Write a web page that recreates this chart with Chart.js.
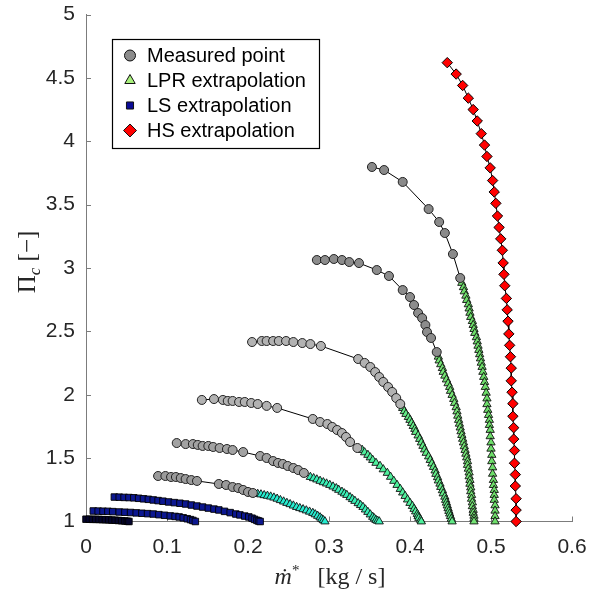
<!DOCTYPE html>
<html><head><meta charset="utf-8">
<script src="https://cdn.jsdelivr.net/npm/chart.js@4.4.0/dist/chart.umd.min.js"></script>
<style>html,body{margin:0;padding:0;background:#fff;}</style>
</head><body>
<canvas id="c" width="589" height="590"></canvas>
<script>
// ---------- tick labels ----------
const xTickValues = [0, 0.1, 0.2, 0.3, 0.4, 0.5, 0.6];
const xTickLabels = ['0', '0.1', '0.2', '0.3', '0.4', '0.5', '0.6'];
const yTickValues = [1, 1.5, 2, 2.5, 3, 3.5, 4, 4.5, 5];
const yTickLabels = ['1', '1.5', '2', '2.5', '3', '3.5', '4', '4.5', '5'];
const legendLabels = ['Measured point', 'LPR extrapolation', 'LS extrapolation', 'HS extrapolation'];

// ---------- measured points [m*, Pi_c] ----------
const measuredA = [[0.089,1.359],[0.098,1.359],[0.105,1.351],[0.111,1.351],[0.117,1.343],[0.123,1.335],[0.130,1.327],[0.137,1.320],[0.164,1.296],[0.173,1.288],[0.181,1.272],[0.188,1.264],[0.194,1.249],[0.200,1.233],[0.206,1.225]];
const measuredB = [[0.112,1.619],[0.123,1.611],[0.132,1.611],[0.138,1.604],[0.144,1.596],[0.151,1.596],[0.157,1.588],[0.165,1.580],[0.174,1.572],[0.181,1.564],[0.194,1.548],[0.215,1.517],[0.223,1.501],[0.231,1.477],[0.237,1.462],[0.243,1.454],[0.249,1.438],[0.256,1.422],[0.262,1.406],[0.269,1.383]];
const measuredC = [[0.143,1.959],[0.158,1.966],[0.169,1.959],[0.175,1.951],[0.181,1.951],[0.189,1.943],[0.196,1.943],[0.204,1.935],[0.212,1.927],[0.223,1.912],[0.236,1.896],[0.280,1.809],[0.289,1.785],[0.298,1.769],[0.304,1.746],[0.310,1.722],[0.316,1.698],[0.321,1.667],[0.326,1.627],[0.335,1.580]];
const measuredD = [[0.205,2.416],[0.217,2.424],[0.223,2.424],[0.231,2.424],[0.238,2.424],[0.247,2.424],[0.256,2.416],[0.267,2.408],[0.277,2.400],[0.290,2.385],[0.336,2.282],[0.344,2.251],[0.351,2.219],[0.357,2.179],[0.362,2.140],[0.367,2.101],[0.373,2.061],[0.378,2.022],[0.383,1.974],[0.388,1.927]];
const measuredE = [[0.285,3.063],[0.295,3.063],[0.306,3.071],[0.316,3.063],[0.325,3.047],[0.337,3.039],[0.359,2.984],[0.374,2.937],[0.391,2.826],[0.400,2.771],[0.405,2.708],[0.410,2.645],[0.415,2.605],[0.419,2.550],[0.421,2.495],[0.426,2.448],[0.433,2.337]];
const measuredF = [[0.353,3.797],[0.368,3.773],[0.391,3.679],[0.423,3.465],[0.436,3.363],[0.443,3.276],[0.453,3.110],[0.462,2.921]];

// ---------- LPR extrapolation ----------
const lprA = [[0.212,1.217],[0.216,1.213],[0.220,1.207],[0.224,1.202],[0.228,1.196],[0.232,1.188],[0.236,1.179],[0.240,1.168],[0.244,1.157],[0.248,1.146],[0.252,1.136],[0.256,1.125],[0.260,1.114],[0.264,1.105],[0.268,1.096],[0.272,1.087],[0.276,1.077],[0.280,1.067],[0.283,1.056],[0.286,1.044],[0.289,1.032],[0.291,1.020],[0.293,1.010],[0.295,1.000]];
const lprB = [[0.277,1.351],[0.281,1.341],[0.285,1.331],[0.289,1.320],[0.293,1.309],[0.297,1.299],[0.301,1.288],[0.305,1.275],[0.309,1.262],[0.312,1.249],[0.316,1.234],[0.319,1.221],[0.322,1.209],[0.326,1.191],[0.329,1.176],[0.332,1.162],[0.336,1.144],[0.339,1.129],[0.342,1.114],[0.345,1.094],[0.348,1.075],[0.351,1.055],[0.354,1.036],[0.356,1.024],[0.358,1.012],[0.360,1.005],[0.362,1.000]];
const lprC = [[0.341,1.564],[0.344,1.545],[0.348,1.525],[0.351,1.505],[0.354,1.485],[0.358,1.462],[0.363,1.438],[0.367,1.411],[0.372,1.383],[0.376,1.352],[0.380,1.320],[0.384,1.288],[0.388,1.256],[0.391,1.228],[0.394,1.201],[0.397,1.173],[0.400,1.146],[0.403,1.122],[0.405,1.099],[0.407,1.079],[0.409,1.059],[0.410,1.043],[0.411,1.028],[0.413,1.013],[0.414,1.000]];
const lprD = [[0.391,1.895],[0.393,1.870],[0.395,1.848],[0.398,1.824],[0.400,1.801],[0.402,1.777],[0.404,1.753],[0.406,1.730],[0.407,1.706],[0.410,1.678],[0.412,1.651],[0.414,1.623],[0.416,1.596],[0.418,1.568],[0.420,1.541],[0.423,1.513],[0.425,1.485],[0.427,1.457],[0.429,1.430],[0.431,1.402],[0.432,1.375],[0.434,1.349],[0.435,1.323],[0.437,1.298],[0.438,1.272],[0.440,1.246],[0.441,1.221],[0.443,1.195],[0.444,1.170],[0.445,1.148],[0.446,1.126],[0.447,1.104],[0.448,1.083],[0.449,1.062],[0.450,1.042],[0.451,1.021],[0.452,1.000]];
const lprE = [[0.435,2.300],[0.436,2.270],[0.438,2.240],[0.440,2.210],[0.441,2.180],[0.443,2.150],[0.445,2.120],[0.447,2.090],[0.449,2.061],[0.450,2.030],[0.452,1.998],[0.454,1.966],[0.455,1.935],[0.457,1.901],[0.458,1.868],[0.459,1.834],[0.460,1.801],[0.461,1.771],[0.462,1.741],[0.463,1.711],[0.464,1.682],[0.465,1.652],[0.466,1.623],[0.467,1.593],[0.468,1.564],[0.469,1.534],[0.470,1.505],[0.471,1.475],[0.471,1.446],[0.472,1.416],[0.473,1.386],[0.473,1.356],[0.474,1.327],[0.474,1.297],[0.475,1.268],[0.475,1.238],[0.476,1.209],[0.476,1.179],[0.477,1.150],[0.477,1.120],[0.478,1.091],[0.478,1.068],[0.479,1.045],[0.479,1.022],[0.479,1.000]];
const lprF = [[0.464,2.882],[0.466,2.848],[0.467,2.815],[0.469,2.781],[0.470,2.747],[0.472,2.713],[0.473,2.680],[0.474,2.646],[0.475,2.613],[0.477,2.581],[0.478,2.550],[0.479,2.518],[0.480,2.487],[0.482,2.453],[0.483,2.420],[0.484,2.386],[0.485,2.353],[0.486,2.319],[0.487,2.286],[0.488,2.252],[0.489,2.219],[0.490,2.180],[0.491,2.140],[0.492,2.100],[0.493,2.061],[0.494,2.015],[0.495,1.970],[0.495,1.925],[0.496,1.880],[0.497,1.840],[0.498,1.801],[0.498,1.761],[0.499,1.722],[0.499,1.672],[0.500,1.623],[0.500,1.574],[0.501,1.525],[0.501,1.475],[0.502,1.426],[0.502,1.376],[0.503,1.327],[0.503,1.287],[0.504,1.248],[0.504,1.209],[0.504,1.170],[0.505,1.127],[0.505,1.085],[0.505,1.042],[0.505,1.000]];

// ---------- LS extrapolation ----------
const lsA = [[0.000,1.018],[0.004,1.018],[0.008,1.017],[0.012,1.017],[0.016,1.016],[0.020,1.015],[0.024,1.014],[0.028,1.013],[0.032,1.011],[0.036,1.010],[0.040,1.008],[0.044,1.006],[0.048,1.004],[0.051,1.002],[0.053,1.000]];
const lsB = [[0.009,1.083],[0.015,1.082],[0.021,1.081],[0.027,1.080],[0.033,1.078],[0.041,1.075],[0.048,1.073],[0.055,1.071],[0.062,1.068],[0.069,1.065],[0.076,1.062],[0.083,1.059],[0.090,1.054],[0.097,1.049],[0.104,1.044],[0.110,1.040],[0.115,1.036],[0.120,1.029],[0.125,1.022],[0.129,1.015],[0.132,1.008],[0.135,1.000]];
const lsC = [[0.035,1.193],[0.041,1.192],[0.047,1.190],[0.053,1.189],[0.059,1.187],[0.065,1.183],[0.071,1.179],[0.077,1.175],[0.083,1.170],[0.089,1.165],[0.095,1.160],[0.102,1.154],[0.109,1.149],[0.116,1.144],[0.123,1.138],[0.130,1.130],[0.137,1.122],[0.144,1.114],[0.151,1.106],[0.158,1.098],[0.164,1.091],[0.171,1.080],[0.178,1.070],[0.185,1.059],[0.190,1.052],[0.196,1.043],[0.201,1.036],[0.205,1.026],[0.208,1.017],[0.211,1.009],[0.213,1.004],[0.215,1.000]];

// ---------- HS extrapolation ----------
const hsPi = [4.62,4.53,4.44,4.34,4.25,4.16,4.06,3.97,3.88,3.79,3.69,3.60,3.51,3.41,3.32,3.23,3.14,3.04,2.95,2.86,2.76,2.67,2.58,2.48,2.39,2.30,2.21,2.11,2.02,1.93,1.83,1.74,1.65,1.56,1.46,1.37,1.28,1.18,1.09,1.00];
const hsMass = [0.446,0.457,0.465,0.472,0.478,0.483,0.488,0.492,0.495,0.499,0.502,0.504,0.506,0.508,0.510,0.512,0.514,0.515,0.516,0.517,0.519,0.520,0.521,0.522,0.523,0.524,0.525,0.525,0.526,0.527,0.527,0.528,0.528,0.529,0.529,0.530,0.530,0.531,0.531,0.531];

// ---------- styling ----------
const pts = a => a.map(p => ({x: p[0], y: p[1]}));
const measuredSets = [measuredA, measuredB, measuredC, measuredD, measuredE, measuredF];
const measuredFill = ['#9a9a9a', '#a2a2a2', '#b2b2b2', '#b2b2b2', '#8c8c8c', '#8a8a8a'];
const lprSets = [lprA, lprB, lprC, lprD, lprE, lprF];
const lprFill = ['#26ecd0', '#38f0b6', '#4ef09c', '#62ea86', '#74e474', '#6ede6a'];
const lsSets = [lsA, lsB, lsC];
const lsFill = ['#05052e', '#0c1790', '#0c1790'];

const datasets = [];
measuredSets.forEach((s, i) => datasets.push({
  label: 'measured', data: pts(s), showLine: true, borderColor: '#000', borderWidth: 1,
  pointStyle: 'circle', pointRadius: 4.5, pointBackgroundColor: measuredFill[i],
  pointBorderColor: '#222', pointBorderWidth: 1, clip: false, order: 1
}));
lprSets.forEach((s, i) => datasets.push({
  label: 'lpr', data: pts(s), showLine: true, borderColor: '#000', borderWidth: 0.8,
  pointStyle: 'triangle', pointRadius: 4.8, pointBackgroundColor: lprFill[i],
  pointBorderColor: '#111', pointBorderWidth: 0.9, clip: false, order: 2
}));
lsSets.forEach((s, i) => datasets.push({
  label: 'ls', data: pts(s), showLine: true, borderColor: '#000', borderWidth: 0.8,
  pointStyle: 'rect', pointRadius: 4.6, pointBackgroundColor: lsFill[i],
  pointBorderColor: '#000', pointBorderWidth: 0.9, clip: false, order: 3
}));
datasets.push({
  label: 'hs', data: hsMass.map((m, i) => ({x: m, y: hsPi[i]})), showLine: true,
  borderColor: '#000', borderWidth: 1, pointStyle: 'rectRot', pointRadius: 5.2,
  pointBackgroundColor: '#ff0000', pointBorderColor: '#000', pointBorderWidth: 1, clip: false, order: 0
});

const AXIS = '#7c7c7c';
const zeroPad = s => { s.paddingLeft = 0; s.paddingRight = 0; s.paddingTop = 0; s.paddingBottom = 0; };
const decor = {
  id: 'decor',
  beforeDatasetsDraw(chart) {
    const ctx = chart.ctx, xs = chart.scales.x, ys = chart.scales.y, ca = chart.chartArea;
    ctx.save();
    ctx.strokeStyle = AXIS; ctx.lineWidth = 1;
    xTickValues.forEach(v => {
      const px = Math.round(xs.getPixelForValue(v)) + 0.5;
      ctx.beginPath(); ctx.moveTo(px, ca.bottom); ctx.lineTo(px, ca.bottom - 5); ctx.stroke();
    });
    yTickValues.forEach(v => {
      const py = Math.round(ys.getPixelForValue(v)) + 0.5;
      ctx.beginPath(); ctx.moveTo(ca.left, py); ctx.lineTo(ca.left + 5, py); ctx.stroke();
    });
    ctx.restore();
  },
  afterDraw(chart) {
    const ctx = chart.ctx;
    ctx.save();
    const serif = "'Liberation Serif','DejaVu Serif',serif";
    const fMain = '24px ' + serif, fIt = 'italic 24px ' + serif, fSup = '15px ' + serif;
    ctx.fillStyle = '#262626';
    ctx.textBaseline = 'alphabetic';
    const parts = [['ṁ', fIt, 0], ['*', fSup, -9], ['   [kg / s]', fMain, 0]];
    let w = 0;
    parts.forEach(p => { ctx.font = p[1]; w += ctx.measureText(p[0]).width; });
    let x = 330 - w / 2;
    parts.forEach(p => { ctx.font = p[1]; ctx.fillText(p[0], x, 584 + p[2]); x += ctx.measureText(p[0]).width; });
    ctx.translate(35, 262);
    ctx.rotate(-Math.PI / 2);
    const yparts = [['Π', '25px ' + serif, 0], ['c', 'italic 17px ' + serif, 5], [' [−]', '25px ' + serif, 0]];
    w = 0;
    yparts.forEach(p => { ctx.font = p[1]; w += ctx.measureText(p[0]).width; });
    x = -w / 2;
    yparts.forEach(p => { ctx.font = p[1]; ctx.fillText(p[0], x, p[2]); x += ctx.measureText(p[0]).width; });
    ctx.restore();

    // legend
    ctx.save();
    ctx.fillStyle = '#fff'; ctx.fillRect(112, 39, 207, 109);
    ctx.strokeStyle = '#000'; ctx.lineWidth = 1.2; ctx.strokeRect(112.5, 39.5, 207, 109);
    const ys2 = [55.5, 80.5, 105.5, 130.5];
    const styles = [
      {pointStyle: 'circle', radius: 5.5, fill: '#8c8c8c'},
      {pointStyle: 'triangle', radius: 6, fill: '#a8f07c'},
      {pointStyle: 'rect', radius: 5, fill: '#0a0a96'},
      {pointStyle: 'rectRot', radius: 6.5, fill: '#ff0000'}
    ];
    styles.forEach((s, i) => {
      ctx.fillStyle = s.fill; ctx.strokeStyle = '#111'; ctx.lineWidth = 1;
      Chart.helpers.drawPoint(ctx, {pointStyle: s.pointStyle, radius: s.radius, borderWidth: 1, rotation: 0}, 130, ys2[i]);
    });
    ctx.fillStyle = '#000';
    ctx.font = "20px 'Liberation Sans', Arial, sans-serif";
    ctx.textBaseline = 'middle';
    legendLabels.forEach((t, i) => ctx.fillText(t, 147, ys2[i] + 1));
    ctx.restore();
  }
};

new Chart(document.getElementById('c'), {
  type: 'scatter',
  data: {datasets},
  options: {
    responsive: false, animation: false,
    layout: {padding: {top: 14.5, right: 17, left: 0, bottom: 0}},
    plugins: {legend: {display: false}, tooltip: {enabled: false}},
    scales: {
      x: {
        type: 'linear', min: 0, max: 0.6,
        afterBuildTicks: s => { s.ticks = xTickValues.map(v => ({value: v})); },
        ticks: {callback: (v, i) => xTickLabels[i], font: {family: "'Liberation Sans', Arial, sans-serif", size: 21},
          color: '#262626', padding: 13, maxRotation: 0, autoSkip: false},
        grid: {display: false, drawTicks: false},
        border: {display: true, color: AXIS, width: 1},
        afterFit: s => { s.height = 68.5; zeroPad(s); }
      },
      y: {
        type: 'linear', min: 1, max: 5,
        afterBuildTicks: s => { s.ticks = yTickValues.map(v => ({value: v})); },
        ticks: {callback: (v, i) => yTickLabels[i], font: {family: "'Liberation Sans', Arial, sans-serif", size: 21},
          color: '#262626', padding: 11, autoSkip: false},
        grid: {display: false, drawTicks: false},
        border: {display: true, color: AXIS, width: 1},
        afterFit: s => { s.width = 86; zeroPad(s); }
      }
    }
  },
  plugins: [decor]
});
</script>
</body></html>
